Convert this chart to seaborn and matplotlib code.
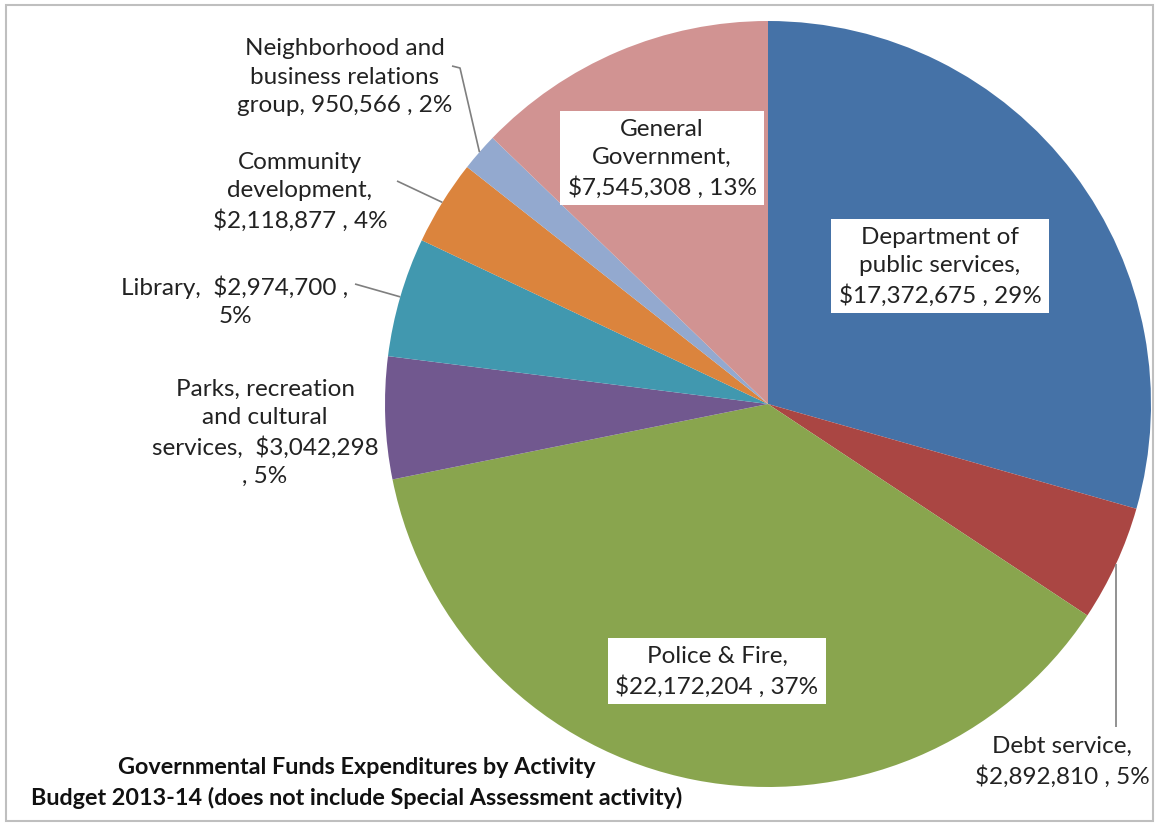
import numpy as np
import matplotlib
matplotlib.use("Agg")
import matplotlib.pyplot as plt
import seaborn as sns
from matplotlib.patches import Rectangle

# Budget 2013-14 expenditures by activity, listed clockwise from 12 o'clock
activities = [
    "Department of public services",
    "Debt service",
    "Police & Fire",
    "Parks, recreation and cultural services",
    "Library",
    "Community development",
    "Neighborhood and business relations group",
    "General Government",
]
amounts = [17372675, 2892810, 22172204, 3042298, 2974700, 2118877, 950566, 7545308]
percent_labels = ["29%", "5%", "37%", "5%", "5%", "4%", "2%", "13%"]
currency_prefix = ["$", "$", "$", "$", "$", "$", "", "$"]
slice_colors = ["#4572A7", "#AA4643", "#89A54E", "#71588F",
                "#4198AF", "#DB843D", "#93A9CF", "#D19392"]

title_lines = ["Governmental Funds Expenditures by Activity",
               "Budget 2013-14 (does not include Special Assessment activity)"]

sns.set_theme(style="white")
plt.rcParams["font.family"] = ["Lato", "DejaVu Sans"]

W, H = 1159, 829
fig = plt.figure(figsize=(W / 100, H / 100), dpi=100)
fig.patch.set_facecolor("white")

# pie centred at pixel (768, 405) with radius 383 px
cx, cy, R = 768, 405, 383
ax = fig.add_axes([(cx - R) / W, (H - cy - R) / H, 2 * R / W, 2 * R / H])

wedges, _ = ax.pie(amounts, colors=slice_colors, startangle=90, counterclock=False,
                   radius=1.0, wedgeprops=dict(linewidth=0))
ax.set_xlim(-1, 1)
ax.set_ylim(-1, 1)
ax.set_aspect("equal")
ax.axis("off")


def px(x, y):
    """pixel coordinates (top-left origin) -> data coordinates"""
    return (x - cx) / R, (cy - y) / R


def mid_point(i, r=1.0):
    w = wedges[i]
    ang = np.deg2rad((w.theta1 + w.theta2) / 2)
    return r * np.cos(ang), r * np.sin(ang)


fs = 17.5
txtc = "#222222"
box = dict(boxstyle="square,pad=0.3", facecolor="white", edgecolor="none")

# label layout: (template, centre in pixels, white box)
labels = {
    0: ("Department of\npublic services,\n{v} , {p}", (940, 267), True),
    1: ("Debt service,\n{v} , {p}", (1062, 762), False),
    2: ("Police & Fire,\n{v} , {p}", (717, 672), True),
    3: ("Parks, recreation\nand cultural\nservices,  {v}\n, {p}", (265, 433), False),
    4: ("Library,  {v} ,\n{p}", (235, 301), False),
    5: ("Community\ndevelopment,\n{v} , {p}", (300, 192), False),
    6: ("Neighborhood and\nbusiness relations\ngroup, {v} , {p}", (345, 77), False),
    7: ("General\nGovernment,\n{v} , {p}", (662, 159), True),
}

for i, (fmt, (lx, ly), boxed) in labels.items():
    s = fmt.format(v=f"{currency_prefix[i]}{amounts[i]:,}", p=percent_labels[i])
    x, y = px(lx, ly)
    ax.text(x, y, s, ha="center", va="center", fontsize=fs, color=txtc,
            linespacing=1.42, multialignment="center",
            bbox=box if boxed else None, zorder=5)

# leader lines from labels to slice edges
line_kw = dict(color="#7f7f7f", lw=1.2, solid_capstyle="butt", zorder=4,
               clip_on=False)

ex, ey = mid_point(1)
ly0 = px(0, 728)[1]
ax.plot([ex, ex], [ey, ly0], **line_kw)

for i, start in [(4, (355, 285)), (5, (397, 182))]:
    ex, ey = mid_point(i)
    sx, sy = px(*start)
    ax.plot([sx, ex], [sy, ey], **line_kw)

ex, ey = mid_point(6)
s1 = px(452, 67)
s2 = px(460, 69)
ax.plot([s1[0], s2[0], ex], [s1[1], s2[1], ey], **line_kw)

# chart title in the lower left
fig.text(357 / W, 1 - 768 / H, title_lines[0], ha="center", va="center",
         fontsize=16.8, fontweight="bold", color="#111111")
fig.text(357 / W, 1 - 798 / H, title_lines[1], ha="center", va="center",
         fontsize=16.8, fontweight="bold", color="#111111")

# thin grey chart-area border
fig.patches.append(Rectangle((6 / W, 1 - 822 / H), (1153 - 6) / W, (822 - 6) / H,
                             transform=fig.transFigure, fill=False,
                             edgecolor="#bfbfbf", lw=1.5, zorder=0))

fig.savefig("out.png", dpi=100, facecolor="white")
